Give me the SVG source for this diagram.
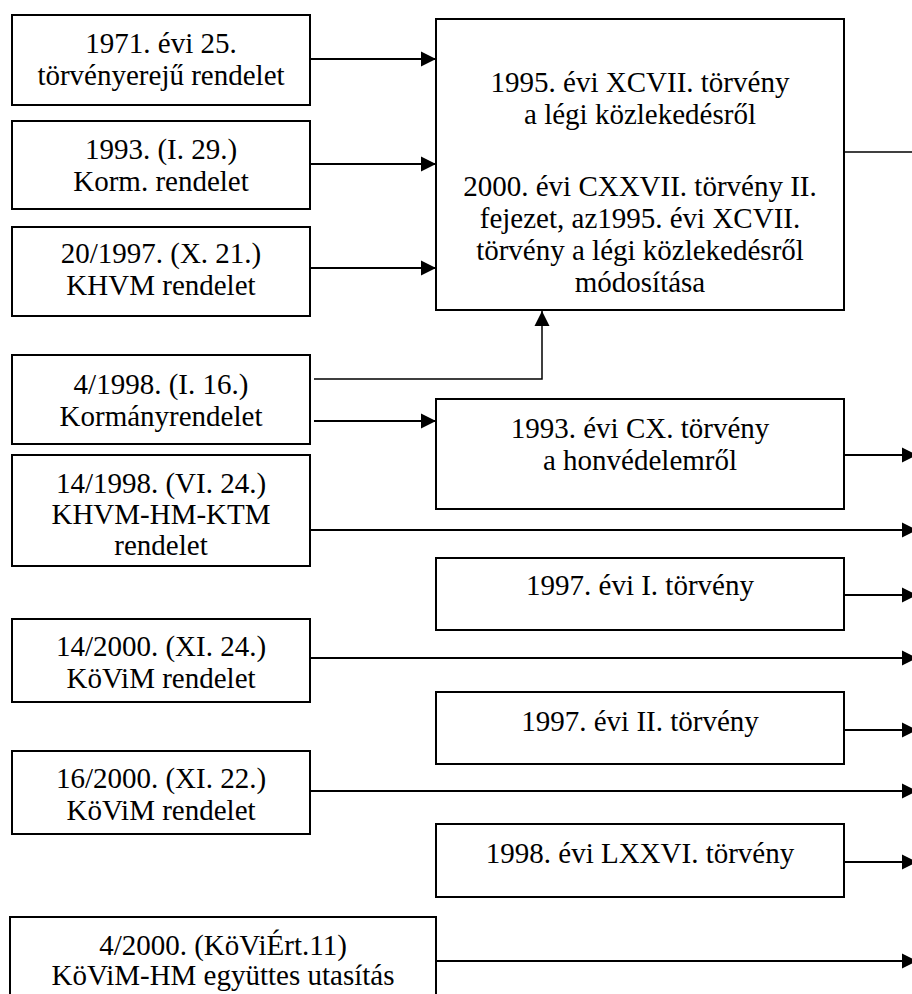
<svg xmlns="http://www.w3.org/2000/svg" width="912" height="994" viewBox="0 0 912 994">
<defs>
<style>
.box{fill:#fff;stroke:#000;stroke-width:2}
.t{font-family:"Liberation Serif","Times New Roman",serif;font-size:29px;fill:#000;text-anchor:middle}
.c{fill:none;stroke:#000;stroke-width:2}
.c1{fill:none;stroke:#000;stroke-width:1.5}
</style>
<marker id="ah" markerUnits="userSpaceOnUse" markerWidth="16" markerHeight="16" refX="15" refY="8" orient="auto">
<path d="M0,0.5 L15,8 L0,15.5 Z" fill="#000"/>
</marker>
</defs>
<rect width="912" height="994" fill="#fff"/>
<g id="connectors">
<line class="c" x1="310" y1="59" x2="436" y2="59" marker-end="url(#ah)"/>
<line class="c" x1="310" y1="164" x2="436" y2="164" marker-end="url(#ah)"/>
<line class="c" x1="310" y1="268" x2="436" y2="268" marker-end="url(#ah)"/>
<polyline class="c1" points="314,379 542,379 542,311" marker-end="url(#ah)"/>
<line class="c" x1="314" y1="421" x2="436" y2="421" marker-end="url(#ah)"/>
<line class="c1" x1="844" y1="152" x2="912" y2="152"/>
<line class="c" x1="844" y1="455" x2="917" y2="455" marker-end="url(#ah)"/>
<line class="c" x1="310" y1="530" x2="917" y2="530" marker-end="url(#ah)"/>
<line class="c" x1="844" y1="595" x2="917" y2="595" marker-end="url(#ah)"/>
<line class="c" x1="310" y1="658" x2="917" y2="658" marker-end="url(#ah)"/>
<line class="c" x1="844" y1="730" x2="917" y2="730" marker-end="url(#ah)"/>
<line class="c" x1="310" y1="791" x2="917" y2="791" marker-end="url(#ah)"/>
<line class="c" x1="844" y1="862" x2="917" y2="862" marker-end="url(#ah)"/>
<line class="c" x1="436" y1="961" x2="917" y2="961" marker-end="url(#ah)"/>
</g>
<g id="n1971"><rect class="box" x="12" y="15" width="298" height="90"/>
<text class="t" x="161" y="53">1971. évi 25.</text><text class="t" x="161" y="85">törvényerejű rendelet</text></g>
<g id="n1993korm"><rect class="box" x="12" y="121" width="298" height="88"/>
<text class="t" x="161" y="159">1993. (I. 29.)</text><text class="t" x="161" y="191">Korm. rendelet</text></g>
<g id="n20_1997"><rect class="box" x="12" y="227" width="298" height="89"/>
<text class="t" x="161" y="263">20/1997. (X. 21.)</text><text class="t" x="161" y="295">KHVM rendelet</text></g>
<g id="nlegi"><rect class="box" x="436" y="19" width="408" height="291"/>
<text class="t" x="640" y="92">1995. évi XCVII. törvény</text>
<text class="t" x="640" y="124">a légi közlekedésről</text>
<text class="t" x="640" y="196">2000. évi CXXVII. törvény II.</text>
<text class="t" x="640" y="228">fejezet, az1995. évi XCVII.</text>
<text class="t" x="640" y="260">törvény a légi közlekedésről</text>
<text class="t" x="640" y="292">módosítása</text></g>
<g id="n4_1998"><rect class="box" x="12" y="355" width="298" height="89"/>
<text class="t" x="161" y="394">4/1998. (I. 16.)</text><text class="t" x="161" y="426">Kormányrendelet</text></g>
<g id="nhonved"><rect class="box" x="436" y="399" width="408" height="110"/>
<text class="t" x="640" y="438">1993. évi CX. törvény</text><text class="t" x="640" y="470">a honvédelemről</text></g>
<g id="n14_1998"><rect class="box" x="12" y="455" width="298" height="111"/>
<text class="t" x="161" y="493">14/1998. (VI. 24.)</text><text class="t" x="161" y="524">KHVM-HM-KTM</text><text class="t" x="161" y="555">rendelet</text></g>
<g id="n1997i"><rect class="box" x="436" y="558" width="408" height="72"/>
<text class="t" x="640" y="595">1997. évi I. törvény</text></g>
<g id="n14_2000"><rect class="box" x="12" y="619" width="298" height="83"/>
<text class="t" x="161" y="656">14/2000. (XI. 24.)</text><text class="t" x="161" y="688">KöViM rendelet</text></g>
<g id="n1997ii"><rect class="box" x="436" y="692" width="408" height="72"/>
<text class="t" x="640" y="731">1997. évi II. törvény</text></g>
<g id="n16_2000"><rect class="box" x="12" y="751" width="298" height="83"/>
<text class="t" x="161" y="788">16/2000. (XI. 22.)</text><text class="t" x="161" y="820">KöViM rendelet</text></g>
<g id="n1998lxxvi"><rect class="box" x="436" y="824" width="408" height="73"/>
<text class="t" x="640" y="863">1998. évi LXXVI. törvény</text></g>
<g id="n4_2000"><rect class="box" x="10" y="917" width="426" height="100"/>
<text class="t" x="223" y="955">4/2000. (KöViÉrt.11)</text><text class="t" x="223" y="985">KöViM-HM együttes utasítás</text></g>
</svg>
